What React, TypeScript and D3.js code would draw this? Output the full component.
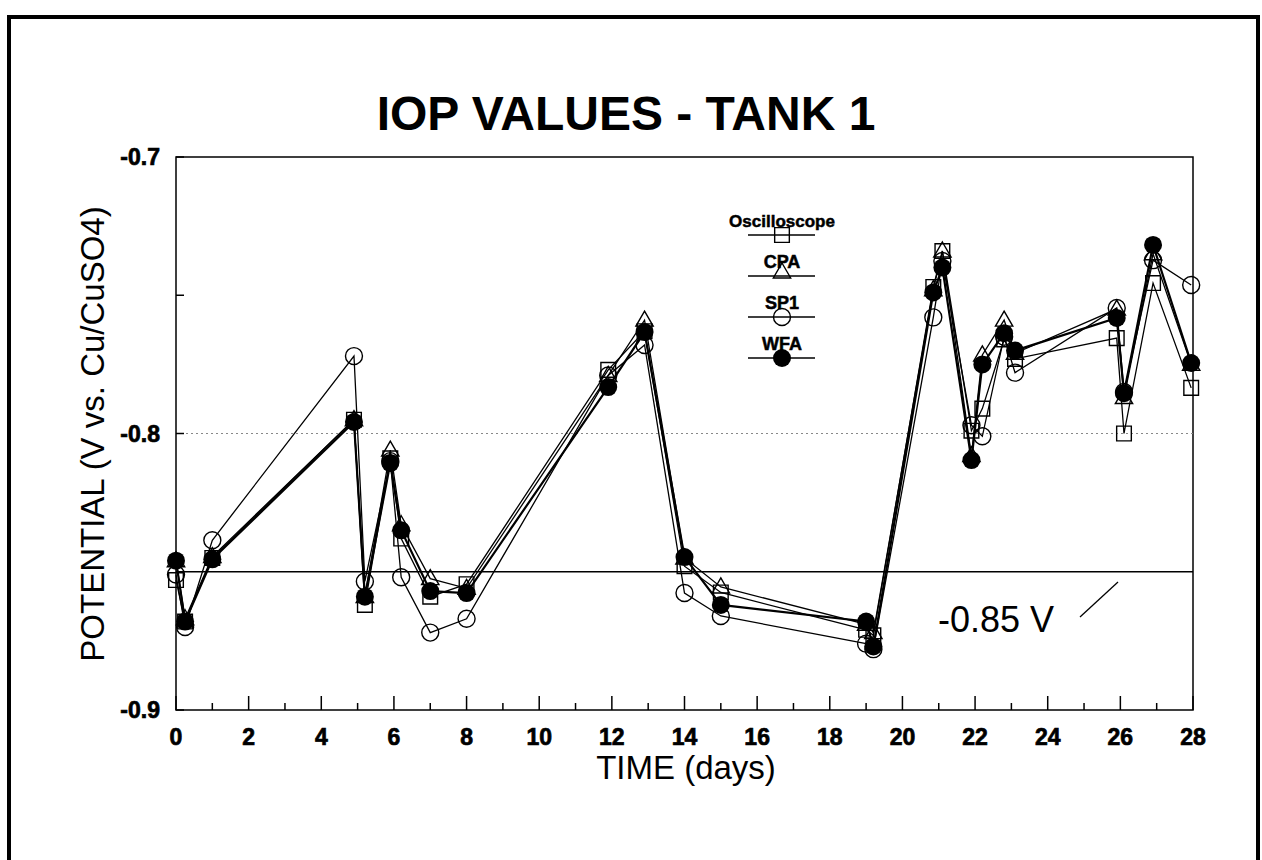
import React from 'react';
import * as d3 from 'd3';

const width = 1262;
const height = 860;

// days of measurement
const days = [0, 0.25, 1, 4.9, 5.2, 5.9, 6.2, 7, 8, 11.9, 12.9, 14, 15, 19, 19.2, 20.85, 21.1, 21.9, 22.2, 22.8, 23.1, 25.9, 26.1, 26.9, 27.95];

const oscilloscope = [-0.853, -0.868, -0.845, -0.795, -0.862, -0.809, -0.838, -0.859, -0.8545, -0.777, -0.763, -0.848, -0.8575, -0.871, -0.873, -0.747, -0.734, -0.799, -0.791, -0.766, -0.773, -0.7655, -0.8, -0.7456, -0.7835];
const cpa = [-0.846, -0.867, -0.8445, -0.795, -0.859, -0.806, -0.833, -0.8525, -0.856, -0.779, -0.759, -0.845, -0.8555, -0.869, -0.872, -0.748, -0.734, -0.808, -0.7716, -0.759, -0.771, -0.755, -0.787, -0.735, -0.775];
const sp1 = [-0.851, -0.87, -0.8386, -0.772, -0.8535, -0.81, -0.852, -0.872, -0.867, -0.779, -0.768, -0.8577, -0.866, -0.876, -0.878, -0.758, -0.7376, -0.797, -0.801, -0.765, -0.778, -0.7546, -0.785, -0.7373, -0.7463];
const wfa = [-0.846, -0.868, -0.8455, -0.7958, -0.859, -0.8107, -0.835, -0.857, -0.8577, -0.7832, -0.7633, -0.8447, -0.862, -0.868, -0.877, -0.749, -0.74, -0.8096, -0.775, -0.7637, -0.77, -0.7582, -0.7854, -0.7318, -0.7745];

const xTicks = d3.range(0, 29, 1);
const xLabels = d3.range(0, 29, 2);
const yLabels = [-0.7, -0.8, -0.9];
const yMinor = [-0.75, -0.85];
const refValue = -0.85;

const legendNames = ['Oscilloscope', 'CPA', 'SP1', 'WFA'];

const font = '"Liberation Sans", Arial, Helvetica, sans-serif';

const x = d3.scaleLinear().domain([0, 28]).range([176, 1193]);
const y = d3.scaleLinear().domain([-0.9, -0.7]).range([710, 157]);

const lineGen = d3.line<number>()
  .x((d, i) => x(days[i]))
  .y(d => y(d));

const squarePath = d3.symbol().type(d3.symbolSquare).size(215)();
const trianglePath = d3.symbol().type(d3.symbolTriangle).size(130)();

const Marker = ({ kind, cx, cy }: { kind: number; cx: number; cy: number }) => {
  if (kind === 0) return <path d={squarePath} transform={`translate(${cx},${cy})`} fill="none" stroke="#000" strokeWidth={1.4} />;
  if (kind === 1) return <path d={trianglePath} transform={`translate(${cx},${cy + 1})`} fill="none" stroke="#000" strokeWidth={1.4} />;
  if (kind === 2) return <circle cx={cx} cy={cy} r={8.5} fill="none" stroke="#000" strokeWidth={1.4} />;
  return <circle cx={cx} cy={cy} r={9} fill="#000" />;
};

const series = [oscilloscope, cpa, sp1, wfa];

const App = () => {
  const [x0, x1] = x.range();
  const [y0, y1] = y.range();
  return (
    <svg width={width} height={height} style={{ position: 'absolute', left: 0, top: 0, background: '#fff' }}>
      {/* page frame */}
      <rect x={9} y={17} width={1249} height={870} fill="none" stroke="#000" strokeWidth={4} />

      <text x={626} y={130} textAnchor="middle" fontFamily={font} fontWeight="bold" fontSize={48}>IOP VALUES - TANK 1</text>

      {/* plot box */}
      <rect x={x0} y={y1} width={x1 - x0} height={y0 - y1} fill="none" stroke="#000" strokeWidth={1.5} />

      {/* dotted grid at -0.8 */}
      <line x1={x0} x2={x1} y1={y(-0.8)} y2={y(-0.8)} stroke="#888" strokeWidth={1} strokeDasharray="2,3" />
      {/* reference line */}
      <line x1={x0} x2={x1} y1={y(refValue)} y2={y(refValue)} stroke="#000" strokeWidth={1.5} />

      {/* x ticks */}
      {xTicks.map(t => (
        <line key={t} x1={x(t)} x2={x(t)} y1={y0} y2={y0 - (t % 2 === 0 ? 14 : 7)} stroke="#000" strokeWidth={1.5} />
      ))}
      {xLabels.map(t => (
        <text key={t} x={x(t)} y={745} textAnchor="middle" fontFamily={font} fontWeight="bold" fontSize={23} stroke="#000" strokeWidth={0.7}>{t}</text>
      ))}

      {/* y ticks */}
      {yLabels.concat(yMinor).map(t => (
        <line key={t} x1={x0} x2={x0 + 8} y1={y(t)} y2={y(t)} stroke="#000" strokeWidth={1.5} />
      ))}
      {yLabels.map(t => (
        <text key={t} x={160} y={y(t) + 8} textAnchor="end" fontFamily={font} fontWeight="bold" fontSize={23} stroke="#000" strokeWidth={0.7}>{t.toFixed(1)}</text>
      ))}

      <text x={686} y={779} textAnchor="middle" fontFamily={font} fontSize={33}>TIME (days)</text>
      <text transform={`translate(104,434) rotate(-90)`} textAnchor="middle" fontFamily={font} fontSize={33}>POTENTIAL (V vs. Cu/CuSO4)</text>

      {/* annotation */}
      <text x={938} y={632} fontFamily={font} fontSize={36}>-0.85 V</text>
      <line x1={1080} y1={617} x2={1118} y2={582} stroke="#000" strokeWidth={1.3} />

      {/* series */}
      {series.map((s, k) => (
        <path key={k} d={lineGen(s) || ''} fill="none" stroke="#000" strokeWidth={k === 3 ? 2.2 : 1.3} />
      ))}
      {series.map((s, k) => (
        <g key={k}>
          {s.map((v, i) => <Marker key={i} kind={k} cx={x(days[i])} cy={y(v)} />)}
        </g>
      ))}

      {/* legend */}
      {legendNames.map((name, k) => {
        const ly = 235 + k * 41;
        return (
          <g key={name}>
            <text x={782} y={ly - 8} textAnchor="middle" fontFamily={font} fontWeight="bold" fontSize={k === 0 ? 17 : 18} stroke="#000" strokeWidth={0.5}>{name}</text>
            <line x1={748} x2={815} y1={ly} y2={ly} stroke="#000" strokeWidth={1.5} />
            <Marker kind={k} cx={782} cy={k === 1 ? ly - 4 : ly} />
          </g>
        );
      })}
    </svg>
  );
};

export default App;
